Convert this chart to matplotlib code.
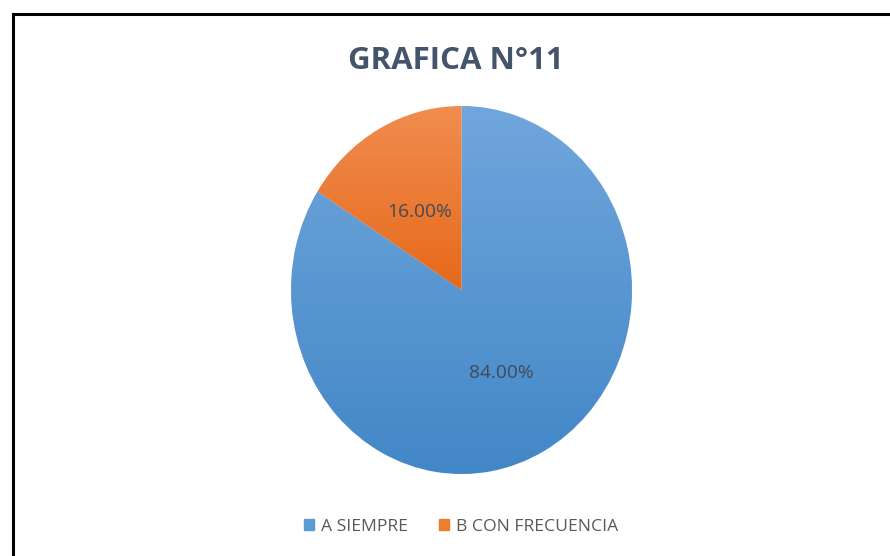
import matplotlib
matplotlib.use("Agg")
import matplotlib.pyplot as plt
import numpy as np
from matplotlib.colors import LinearSegmentedColormap
from matplotlib.patches import Rectangle

categories = ["A SIEMPRE", "B CON FRECUENCIA"]
values = [84.0, 16.0]
labels_pct = ["84.00%", "16.00%"]
title = "GRAFICA N°11"

top_colors = ["#70A6DC", "#F18D50"]
bottom_colors = ["#4287C7", "#E6691A"]
base_colors = ["#5B9BD5", "#ED7D31"]

W, H = 890, 556
fig = plt.figure(figsize=(W / 100, H / 100), dpi=100)
fig.patch.set_facecolor("white")

# figure border (top and left visible)
fig.add_artist(plt.Line2D([12.5 / W, 1.0], [1 - 13.5 / H, 1 - 13.5 / H], transform=fig.transFigure,
                          color="black", lw=2.2))
fig.add_artist(plt.Line2D([12.5 / W, 12.5 / W], [0, 1 - 13.5 / H], transform=fig.transFigure,
                          color="black", lw=2.2))

# pie axes (elliptical pie, as in reference)
left, right, top, bottom = 291, 632, 106, 474
ax = fig.add_axes([left / W, 1 - bottom / H, (right - left) / W, (bottom - top) / H])
wedges, _ = ax.pie(values, colors=base_colors, startangle=90, counterclock=False,
                   wedgeprops=dict(linewidth=0.6, edgecolor="white"))
ax.set_aspect("auto")
ax.set_xlim(-1, 1)
ax.set_ylim(-1, 1)
ax.axis("off")

# gradient fills per slice
for w, ct, cb in zip(wedges, top_colors, bottom_colors):
    path = w.get_path()
    ext = path.get_extents(w.get_patch_transform())
    cmap = LinearSegmentedColormap.from_list("g", [cb, ct])
    grad = np.linspace(0, 1, 256).reshape(-1, 1)
    im = ax.imshow(grad, cmap=cmap, origin="lower", aspect="auto",
                   extent=[ext.x0, ext.x1, ext.y0, ext.y1], zorder=w.get_zorder() + 0.1)
    im.set_clip_path(w)
ax.set_xlim(-1, 1)
ax.set_ylim(-1, 1)

# data labels
lab_color = "#404B5A"
for w, lab in zip(wedges, labels_pct):
    ang = np.deg2rad((w.theta1 + w.theta2) / 2)
    r = 0.5
    ax.text(r * np.cos(ang) - 0.005, r * np.sin(ang) - 0.015, lab, ha="center", va="center",
            fontsize=13.8, color=lab_color, family="Open Sans", zorder=5)

# title
fig.text(456 / W, 1 - 61 / H, title, ha="center", va="center", fontsize=22.5,
         fontweight="bold", color="#44546A", family="Open Sans")

# legend
leg_handles = [Rectangle((0, 0), 1, 1, color=c) for c in base_colors]
fig.legend(leg_handles, categories, loc="center", bbox_to_anchor=(461 / W, 1 - 527 / H),
           ncol=2, frameon=False, handlelength=0.6, handleheight=0.6, handletextpad=0.4,
           columnspacing=1.75, prop=dict(family="Open Sans", size=12.6),
           labelcolor="#595959")

fig.savefig("out.png", dpi=100, facecolor="white")
